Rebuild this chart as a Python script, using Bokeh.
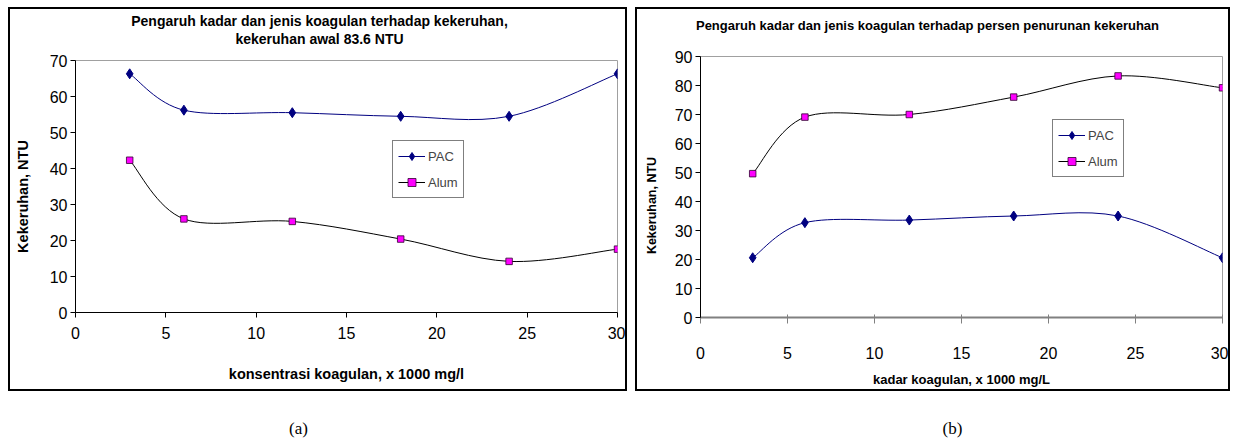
import numpy as np
from bokeh.plotting import figure
from bokeh.layouts import row, column
from bokeh.models import Label, Legend, LegendItem, FixedTicker, Range1d, Spacer
from bokeh.embed import file_html
from bokeh.resources import INLINE

# ---------------- data ----------------
dose = [3, 6, 12, 18, 24, 30]
pac_turb = [66.3, 56.2, 55.5, 54.5, 54.5, 66.3]
alum_turb = [42.3, 26.0, 25.3, 20.4, 14.2, 17.6]
pac_pct = [20.6, 32.7, 33.6, 35.0, 35.0, 20.6]
alum_pct = [49.6, 69.1, 70.0, 76.0, 83.3, 79.2]
x_ticks = [0, 5, 10, 15, 20, 25, 30]
y_ticks_a = [0, 10, 20, 30, 40, 50, 60, 70]
y_ticks_b = [0, 10, 20, 30, 40, 50, 60, 70, 80, 90]

title_a1 = "Pengaruh kadar dan jenis koagulan terhadap kekeruhan,"
title_a2 = "kekeruhan awal 83.6 NTU"
title_b = "Pengaruh kadar dan jenis koagulan terhadap persen penurunan kekeruhan"
ylab = "Kekeruhan, NTU"
xlab_a = "konsentrasi koagulan, x 1000 mg/l"
xlab_b = "kadar koagulan, x 1000 mg/L"

SANS = "Liberation Sans"
SERIF = "Liberation Serif"
NAVY = "#000080"
MAGENTA = "#FF00FF"


def smooth_ctrl(xs, ys):
    """Bezier control points for a smoothed line through the data (Catmull-Rom style)."""
    x = np.asarray(xs, float)
    y = np.asarray(ys, float)
    n = len(x)
    xp = np.concatenate([[x[0]], x, [x[-1]]])
    yp = np.concatenate([[y[0]], y, [y[-1]]])
    i = np.arange(n - 1)
    cx0 = xp[i + 1] + (xp[i + 2] - xp[i]) / 6
    cy0 = yp[i + 1] + (yp[i + 2] - yp[i]) / 6
    cx1 = xp[i + 2] - (xp[i + 3] - xp[i + 1]) / 6
    cy1 = yp[i + 2] - (yp[i + 3] - yp[i + 1]) / 6
    return dict(x0=x[:-1], y0=y[:-1], x1=x[1:], y1=y[1:], cx0=cx0, cy0=cy0, cx1=cx1, cy1=cy1)


def strip(w, h):
    """A blank canvas whose frame is the whole canvas, used to hold texts."""
    s = figure(width=w, height=h, x_range=Range1d(0, 1), y_range=Range1d(0, 1), title=None,
               output_backend="svg", toolbar_location=None, x_axis_type=None, y_axis_type=None,
               min_border=0, min_border_left=0, min_border_right=0, min_border_top=0,
               min_border_bottom=0)
    s.grid.visible = False
    s.outline_line_color = None
    s.background_fill_color = "white"
    s.border_fill_color = "white"
    return s


def put(fig, x, y, s, size, bold=True, angle=0, font=SANS):
    fig.add_layout(Label(x=x, y=y, x_units="canvas", y_units="canvas", text=s,
                         text_font=font, text_font_size=size,
                         text_font_style="bold" if bold else "normal", text_color="black",
                         text_align="center", text_baseline="middle", angle=angle))


def make_fig(w, h, bl, fw, bt, fh, ymax, yticks, right_style):
    p = figure(width=w, height=h, x_range=Range1d(0, 30), y_range=Range1d(0, ymax), title=None,
               output_backend="svg", toolbar_location=None,
               min_border_left=bl, min_border_right=w - bl - fw,
               min_border_top=bt, min_border_bottom=h - bt - fh)
    p.grid.visible = False
    p.outline_line_color = "#a0a0a0"
    p.outline_line_width = 1
    p.background_fill_color = "white"
    p.border_fill_color = "white"
    p.xaxis.ticker = FixedTicker(ticks=x_ticks)
    p.yaxis.ticker = FixedTicker(ticks=yticks)
    for ax in (p.xaxis, p.yaxis):
        ax.minor_tick_line_color = None
        ax.major_label_text_font = SANS
        ax.major_label_text_font_size = "16px"
        ax.major_label_text_color = "black"
        ax.axis_line_color = "black"
        ax.major_tick_line_color = "black"
        ax.axis_label_text_font = SANS
        ax.axis_label_text_font_style = "bold"
        ax.axis_label_text_color = "black"
    p.yaxis.major_tick_in = 0
    p.yaxis.major_tick_out = 5
    p.yaxis.major_label_standoff = 3
    if right_style:
        p.xaxis.axis_line_color = "#808080"
        p.xaxis.axis_line_width = 2
        p.xaxis.major_tick_line_color = "#808080"
        p.xaxis.major_tick_in = 3
        p.xaxis.major_tick_out = 6
        p.xaxis.major_label_standoff = 23
    else:
        p.xaxis.major_tick_in = 0
        p.xaxis.major_tick_out = 5
        p.xaxis.major_label_standoff = 9
    return p


def add_series(p, ys_pac, ys_alum, legend_loc):
    c = smooth_ctrl(dose, ys_pac)
    b1 = p.bezier(x0=c["x0"], y0=c["y0"], x1=c["x1"], y1=c["y1"], cx0=c["cx0"], cy0=c["cy0"],
                  cx1=c["cx1"], cy1=c["cy1"], line_color=NAVY, line_width=1)
    c = smooth_ctrl(dose, ys_alum)
    b2 = p.bezier(x0=c["x0"], y0=c["y0"], x1=c["x1"], y1=c["y1"], cx0=c["cx0"], cy0=c["cy0"],
                  cx1=c["cx1"], cy1=c["cy1"], line_color="black", line_width=1)
    s1 = p.scatter(dose, ys_pac, marker="diamond", size=10, fill_color=NAVY, line_color=NAVY)
    s2 = p.scatter(dose, ys_alum, marker="square", size=6.5, fill_color=MAGENTA,
                   line_color="#300030", line_width=0.8)
    lg = Legend(items=[LegendItem(label="PAC", renderers=[b1, s1]),
                       LegendItem(label="Alum", renderers=[b2, s2])],
                location=legend_loc, orientation="vertical",
                border_line_color="black", border_line_width=1,
                background_fill_color="white", background_fill_alpha=1,
                padding=5, spacing=6, margin=0, glyph_width=27, glyph_height=20,
                label_height=20, label_standoff=3, label_text_font=SANS,
                label_text_font_size="13px")
    p.add_layout(lg)


def bar(w, h):
    return Spacer(width=w, height=h, styles={"background-color": "black"})


def boxed(inner, w, h, b=2):
    return column(bar(w, b), row(bar(b, h - 2 * b), inner, bar(b, h - 2 * b)), bar(w, b))


# ---------------- chart (a) ----------------
ta = strip(615, 40)
put(ta, 309, 11, title_a1, "14px")
put(ta, 309, 29, title_a2, "14px")
ya = strip(36, 340)
put(ya, 12, 147, ylab, "14.5px", angle=np.pi / 2)
pa = make_fig(579, 340, 27, 544, 11, 252, 70, y_ticks_a, False)
add_series(pa, pac_turb, alum_turb, (317, 114))
pa.xaxis.axis_label = xlab_a
pa.xaxis.axis_label_text_font_size = "14.5px"
pa.xaxis.axis_label_standoff = 24
box_a = boxed(column(ta, row(ya, pa)), 619, 384)

# ---------------- chart (b) ----------------
tb = strip(591, 36)
put(tb, 290, 16, title_b, "13px")
yb = strip(34, 344)
put(yb, 14, 160, ylab, "12.5px", angle=np.pi / 2)
pb = make_fig(557, 344, 27, 524, 11, 261, 90, y_ticks_b, True)
add_series(pb, pac_pct, alum_pct, (352, 140))
pb.xaxis.axis_label = xlab_b
pb.xaxis.axis_label_text_font_size = "13px"
pb.xaxis.axis_label_standoff = 10
box_b = boxed(column(tb, row(yb, pb)), 595, 384)

# ---------------- captions ----------------
cap = strip(1234, 49)
put(cap, 298, 37, "(a)", "17px", bold=False, font=SERIF)
put(cap, 952, 37, "(b)", "17px", bold=False, font=SERIF)

layout = column(Spacer(height=7),
                row(Spacer(width=8), box_a, Spacer(width=8), box_b),
                cap)
open("out.html", "w").write(file_html(layout, INLINE))
